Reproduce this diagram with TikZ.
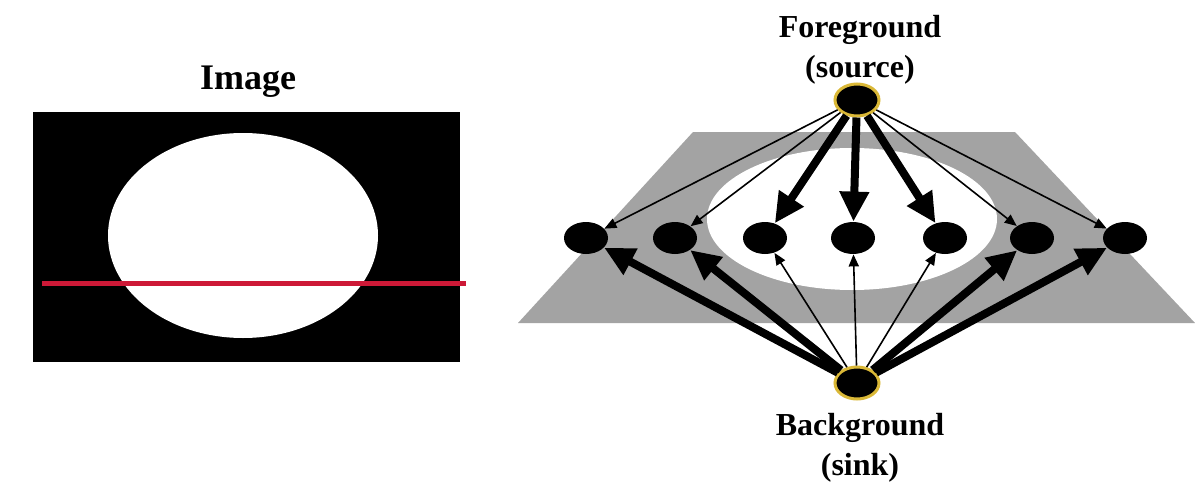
\documentclass[tikz,border=0pt]{standalone}
\usepackage{fontspec}
\setmainfont{Liberation Serif}
\usetikzlibrary{arrows.meta,shapes.geometric}

\definecolor{cutred}{RGB}{205,25,55}
\definecolor{planegray}{RGB}{163,163,163}
\definecolor{ringgold}{RGB}{218,184,55}

\tikzset{
  pixel/.style={ellipse, fill=black, minimum width=22pt, minimum height=16pt, inner sep=0pt},
  terminal/.style={pixel, draw=ringgold, line width=1.5pt},
  weaklink/.style={-{Triangle[length=6pt,width=5pt]}, line width=0.8pt},
  stronglink/.style={-{Triangle[length=15pt,width=14pt]}, line width=4pt},
  caption/.style={font=\bfseries\fontsize{16}{20}\selectfont, align=center, inner sep=0pt}
}

\begin{document}
\begin{tikzpicture}[x=0.5pt,y=-0.5pt]
\useasboundingbox (0,0) rectangle (1195,498);

% the image and its scan line
\fill[black] (33,112) rectangle (460,362);
\fill[white] (243,235.5) ellipse (135 and 102.5);
\draw[cutred, line width=2.5pt] (42,283) -- (466,283);
\node[caption, font=\bfseries\fontsize{18}{22}\selectfont, anchor=base] (img) at (248,90) {Image};

% the graph plane
\fill[planegray] (693,132) -- (1015,132) -- (1195,323) -- (518,323) -- cycle;
\fill[white] (852,219) ellipse (145 and 71);

% terminals and pixel nodes
\node[terminal] (src) at (857,100) {};
\node[terminal] (snk) at (857,383) {};
\foreach \x [count=\i] in {586,675,765,853,945,1032,1125}
  \node[pixel] (p\i) at (\x,238) {};

% t-links
\foreach \i in {1,2,6,7} {
  \draw[weaklink] (src) -- (p\i);
  \draw[stronglink] (snk) -- (p\i);
}
\foreach \i in {3,4,5} {
  \draw[stronglink] (src) -- (p\i);
  \draw[weaklink] (snk) -- (p\i);
}

\node[caption] (fg) at (860,50) {Foreground\\(source)};
\node[caption] (bg) at (860,448) {Background\\(sink)};
\end{tikzpicture}
\end{document}
